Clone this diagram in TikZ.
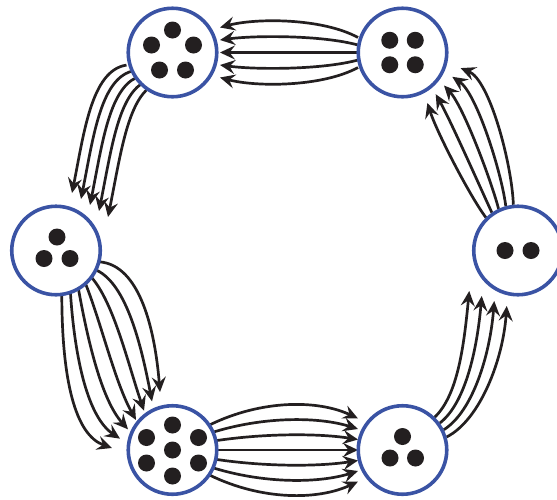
\documentclass[tikz,border=0pt]{standalone}
\usetikzlibrary{arrows.meta,calc}
\pgfdeclarelayer{bg}
\pgfsetlayers{bg,main}
\definecolor{ringblue}{RGB}{58,83,164}
\definecolor{ink}{RGB}{35,31,32}
\tikzset{
  cell/.style={circle,draw=ringblue,line width=3.6pt,fill=white,minimum size=88.5pt,inner sep=0pt},
  link/.style={draw=ink,line width=2.7pt,-{Stealth[length=15pt,width=14pt,inset=5.5pt]}},
  dot/.style={fill=ink}
}
\begin{document}
\begin{tikzpicture}[x=1pt,y=-1pt]
\useasboundingbox (0,0) rectangle (557,499);
% cells
\node[cell] (tl) at (172.5,52.5) {};
\node[cell] (tr) at (402.5,52.5) {};
\node[cell] (l)  at (56,250.5) {};
\node[cell] (r)  at (518,250.5) {};
\node[cell] (bl) at (172.5,450) {};
\node[cell] (br) at (402.5,450) {};
% connectors
\begin{pgfonlayer}{bg}
% top right -> top left
\foreach \k in {-2,...,2}{
  \draw[link] ($(tr)+(-44.5,{7.5*\k})$) .. controls ($(tr)+(-80.5,{17.3*\k})$) and ($(tl)+(83.5,{17.3*\k})$) .. ($(tl)+(47.5,{12.5*\k})$);
}
% top left -> left
\foreach \k in {-2,...,2}{
  \draw[link] ($(tl)+({-36+5*\k},{25+6.2*\k})$) .. controls ($(tl)+({-63.5+8.75*\k},{37.5+9.95*\k})$) and ($(l)+({46+9*\k},{-105.5+6*\k})$) .. ($(l)+({34+9*\k},{-45.5+6*\k})$);
}
% left -> bottom left
\foreach \k in {-3,...,3}{
  \draw[link] ($(l)+({45*cos(48.6-11.33*\k)},{45*sin(48.6-11.33*\k)})$) .. controls ($(l)+({45+13*\k},{72-19.17*\k})$) and ($(bl)+({-57.5+13.33*\k},{-67.5-17.5*\k})$) .. ($(bl)+({-36.5+8*\k},{-30-9.33*\k})$);
}
% bottom left -> bottom right
\foreach \k in {-3,...,3}{
  \draw[link] ($(bl)+(38,{8.5*\k})$) .. controls ($(bl)+(89.5,{16.8*\k})$) and ($(br)+(-84.5,{16.8*\k})$) .. ($(br)+(-44.5,{10.5*\k})$);
}
% bottom right -> right
\foreach \k in {-1.5,-0.5,0.5,1.5}{
  \draw[link] ($(br)+({46*cos(-31+9.7*\k)},{46*sin(-31+9.7*\k)})$) .. controls ($(br)+({66.5+7.33*\k},{-42.5+8.33*\k})$) and ($(r)+({-34.5+13*\k},{102+5*\k})$) .. ($(r)+({-30+12.5*\k},{48+5*\k})$);
}
% right -> top right
\foreach \k in {-2,...,2}{
  \draw[link] ($(r)+({46*cos(-115+9.6*\k)},{46*sin(-115+9.6*\k)})$) .. controls ($(r)+({-26.5+10.25*\k},{-69-8.25*\k})$) and ($(tr)+({61+13.25*\k},{54-13.25*\k})$) .. ($(tr)+({41.5+8.3*\k},{33-8.7*\k})$);
}
\end{pgfonlayer}
% dots
\foreach \dx/\dy in {0/-22.5,-21/-7.5,21/-7.5,-13/17.5,13/17.5}
  \fill[dot] ($(tl)+(\dx,\dy)$) circle (8.5pt);
\foreach \dx/\dy in {-12.75/-12.25,12.75/-12.25,-12.75/12.25,12.75/12.25}
  \fill[dot] ($(tr)+(\dx,\dy)$) circle (8.5pt);
\foreach \dx/\dy in {1/-13.5,-12/8,14/8}
  \fill[dot] ($(l)+(\dx,\dy)$) circle (8.5pt);
\foreach \dx/\dy in {-13/0,13/0}
  \fill[dot] ($(r)+(\dx,\dy)$) circle (8.5pt);
\foreach \dx/\dy in {0/-25,-26/-12.5,26/-12.5,0/0,-26/13,26/13,0/26}
  \fill[dot] ($(bl)+(\dx,\dy)$) circle (8.5pt);
\foreach \dx/\dy in {0/-13.5,-12.5/8,13/8}
  \fill[dot] ($(br)+(\dx,\dy)$) circle (8.5pt);
\end{tikzpicture}
\end{document}
